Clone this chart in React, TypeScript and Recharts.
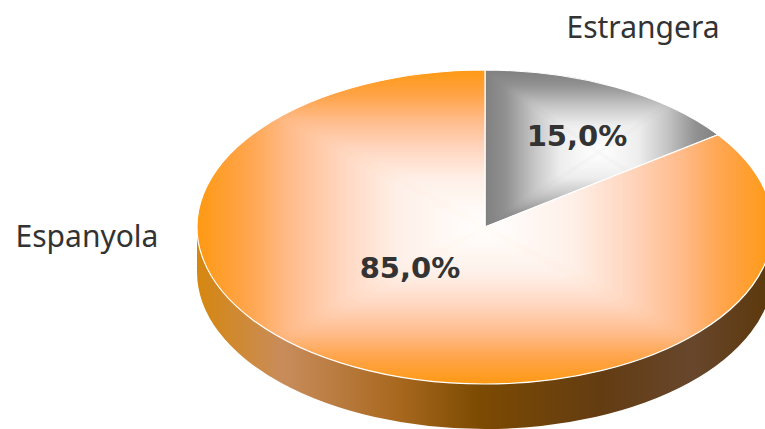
import { PieChart, Pie } from 'recharts';

const names = ['Estrangera', 'Espanyola'];
const shares = [15, 85];

const data = names.map((name, i) => ({ name, value: shares[i] }));

// el pastis es dibuixa aplanat: radi vertical = radi * TILT
const TILT = 157 / 288;
const DEPTH = 45;
const CX = 485;
const CY = 227;
const RADIUS = 288;

const orangeStops: [number, string][] = [
  [0, '#ff9912'],
  [0.18, '#ffa54e'],
  [0.32, '#ffbb8a'],
  [0.5, '#ffd6bf'],
  [0.7, '#fef0e8'],
  [1, '#ffffff'],
];
const greyStops: [number, string][] = [
  [0, '#808080'],
  [0.18, '#909090'],
  [0.43, '#c5c5c5'],
  [0.67, '#eeeeee'],
  [1, '#ffffff'],
];
const sideStops: [number, string][] = [
  [0, '#d6870f'],
  [0.15, '#c88c5c'],
  [0.35, '#a8681e'],
  [0.49, '#7c4a02'],
  [0.7, '#633c12'],
  [0.86, '#67462c'],
  [1, '#5c380a'],
];

const rad = (a: number) => (a * Math.PI) / 180;
const px = (cx: number, r: number, a: number) => cx + r * Math.cos(rad(a));
const py = (cy: number, r: number, a: number) => cy - r * TILT * Math.sin(rad(a));

const Stops = ({ stops }: { stops: [number, string][] }) => (
  <>
    {stops.map(([o, c]) => (
      <stop key={o} offset={o} stopColor={c} />
    ))}
  </>
);

// Cara superior: degradat rectangular, quatre triangles retallats pel sector
const TopSector = (props: any) => {
  const { cx, cy, outerRadius: r, startAngle, endAngle, index } = props;
  const rx = r;
  const ry = r * TILT;
  const large = Math.abs(startAngle - endAngle) > 180 ? 1 : 0;
  const d = `M${cx},${cy} L${px(cx, r, startAngle)},${py(cy, r, startAngle)} A${rx},${ry} 0 ${large} 1 ${px(cx, r, endAngle)},${py(cy, r, endAngle)} Z`;

  let x0 = cx, x1 = cx, y0 = cy, y1 = cy;
  for (let a = endAngle; a <= startAngle; a += 1) {
    x0 = Math.min(x0, px(cx, r, a));
    x1 = Math.max(x1, px(cx, r, a));
    y0 = Math.min(y0, py(cy, r, a));
    y1 = Math.max(y1, py(cy, r, a));
  }
  const isGrey = index === 0;
  const mx = isGrey ? (x0 + x1) / 2 - 3 : cx;
  const my = isGrey ? (y0 + y1) / 2 + 4 : cy;
  const stops = isGrey ? greyStops : orangeStops;
  const id = `top${index}`;

  return (
    <g>
      <defs>
        <clipPath id={`${id}clip`}>
          <path d={d} />
        </clipPath>
        <filter id={`${id}soft`} filterUnits="userSpaceOnUse" x={x0 - 40} y={y0 - 40} width={x1 - x0 + 80} height={y1 - y0 + 80}>
          <feGaussianBlur stdDeviation={isGrey ? 1.5 : 2.5} />
        </filter>
        <linearGradient id={`${id}t`} gradientUnits="userSpaceOnUse" x1={0} y1={y0} x2={0} y2={my}>
          <Stops stops={stops} />
        </linearGradient>
        <linearGradient id={`${id}b`} gradientUnits="userSpaceOnUse" x1={0} y1={y1} x2={0} y2={my}>
          <Stops stops={stops} />
        </linearGradient>
        <linearGradient id={`${id}l`} gradientUnits="userSpaceOnUse" x1={x0} y1={0} x2={mx} y2={0}>
          <Stops stops={stops} />
        </linearGradient>
        <linearGradient id={`${id}r`} gradientUnits="userSpaceOnUse" x1={x1} y1={0} x2={mx} y2={0}>
          <Stops stops={stops} />
        </linearGradient>
      </defs>
      <g clipPath={`url(#${id}clip)`}>
        <g filter={`url(#${id}soft)`}>
          <rect x={x0 - 30} y={y0 - 30} width={x1 - x0 + 60} height={y1 - y0 + 60} fill={stops[0][1]} />
          <polygon points={`${x0},${y0} ${x1},${y0} ${mx},${my}`} fill={`url(#${id}t)`} />
          <polygon points={`${x0},${y1} ${x1},${y1} ${mx},${my}`} fill={`url(#${id}b)`} />
          <polygon points={`${x0},${y0} ${x0},${y1} ${mx},${my}`} fill={`url(#${id}l)`} />
          <polygon points={`${x1},${y0} ${x1},${y1} ${mx},${my}`} fill={`url(#${id}r)`} />
        </g>
      </g>
      <path d={d} fill="none" stroke="#fff" strokeWidth={1.2} />
    </g>
  );
};

// Cantell: nomes la meitat de davant de cada sector
const SideSector = (props: any) => {
  const { cx, cy, outerRadius: r, startAngle, endAngle, index } = props;
  const low = Math.max(endAngle, -180);
  const high = Math.min(startAngle, 0);
  if (high <= low) return null;
  const rx = r;
  const ry = r * TILT;
  const ax = px(cx, r, low);
  const ay = py(cy, r, low);
  const bx = px(cx, r, high);
  const by = py(cy, r, high);
  const d = `M${ax},${ay} A${rx},${ry} 0 0 0 ${bx},${by} L${bx},${by + DEPTH} A${rx},${ry} 0 0 1 ${ax},${ay + DEPTH} Z`;
  return (
    <g>
      <defs>
        <linearGradient id={`side${index}`} gradientUnits="userSpaceOnUse" x1={cx - r} y1={0} x2={cx + r} y2={0}>
          <Stops stops={sideStops} />
        </linearGradient>
      </defs>
      <path d={d} fill={`url(#side${index})`} />
    </g>
  );
};

const percentPos = [
  { x: 577, y: 136 },
  { x: 410, y: 268 },
];
const namePos = [
  { x: 643, y: 26 },
  { x: 87, y: 235 },
];

const SliceLabel = (props: any) => {
  const { index, value, name } = props;
  return (
    <g>
      <text x={percentPos[index].x} y={percentPos[index].y} textAnchor="middle" dominantBaseline="central" fontFamily="DejaVu Sans" fontWeight={700} fontSize={29} fill="#333333">
        {value.toFixed(1).replace('.', ',') + '%'}
      </text>
      <text x={namePos[index].x} y={namePos[index].y} textAnchor="middle" dominantBaseline="central" fontFamily="Noto Sans" fontSize={30} fill="#333333">
        {name}
      </text>
    </g>
  );
};

export default function App() {
  return (
    <div style={{ position: 'absolute', left: 0, top: 0, width: 765, height: 429, overflow: 'hidden', background: '#fff' }}>
      <PieChart width={765} height={429} margin={{ top: 0, right: 0, bottom: 0, left: 0 }}>
        <Pie
          data={data}
          dataKey="value"
          nameKey="name"
          cx={CX}
          cy={CY}
          innerRadius={0}
          outerRadius={RADIUS}
          startAngle={90}
          endAngle={-270}
          stroke="none"
          shape={SideSector}
          label={false}
          labelLine={false}
          isAnimationActive={false}
        />
        <Pie
          data={data}
          dataKey="value"
          nameKey="name"
          cx={CX}
          cy={CY}
          innerRadius={0}
          outerRadius={RADIUS}
          startAngle={90}
          endAngle={-270}
          shape={TopSector}
          label={SliceLabel}
          labelLine={false}
          isAnimationActive={false}
        />
      </PieChart>
    </div>
  );
}
